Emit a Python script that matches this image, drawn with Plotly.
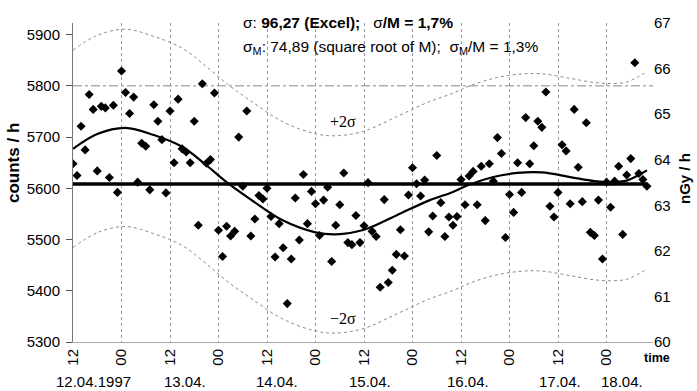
import plotly.graph_objects as go

# ---------------- data ----------------
# hourly count rates, starting 12.04.1997 12:00
counts = [5648, 5625, 5721, 5675, 5783, 5754, 5634, 5760, 5757, 5621,
          5762, 5592, 5829, 5787, 5746, 5778, 5612, 5688, 5682, 5597,
          5763, 5731, 5695, 5591, 5751, 5650, 5774, 5677, 5671, 5650,
          5731, 5528, 5804, 5649, 5656, 5786, 5518, 5467, 5526, 5507,
          5516, 5700, 5604, 5751, 5507, 5540, 5586, 5579, 5600, 5545,
          5466, 5531, 5484, 5375, 5462, 5581, 5499, 5627, 5531, 5594,
          5570, 5508, 5577, 5602, 5457, 5528, 5568, 5630, 5494, 5490,
          5547, 5494, 5527, 5611, 5516, 5506, 5407, 5578, 5416, 5440,
          5471, 5519, 5468, 5587, 5640, 5609, 5585, 5616, 5515, 5546,
          5664, 5572, 5506, 5544, 5528, 5545, 5617, 5568, 5624, 5633,
          5568, 5643, 5537, 5648, 5614, 5699, 5668, 5504, 5588, 5553,
          5650, 5592, 5738, 5648, 5683, 5731, 5719, 5788, 5565, 5544,
          5592, 5685, 5673, 5570, 5754, 5641, 5574, 5728, 5514, 5508,
          5577, 5462, 5612, 5563, 5614, 5643, 5510, 5626, 5658, 5845,
          5629, 5617, 5604]
hours = list(range(len(counts)))

# fitted curve
fit_hours = [0, 6, 13, 20, 27, 33, 38, 44, 52, 60, 65, 72, 80, 88, 94, 98,
             104, 110, 116, 123, 129, 133, 137, 140, 142]
fit_counts = [5677, 5706, 5718, 5704, 5681, 5645, 5612, 5578, 5537, 5514, 5510,
              5519, 5547, 5576, 5593, 5607, 5622, 5630, 5631, 5622, 5614, 5612,
              5615, 5626, 5635]

SIGMA = 96.27          # Excel standard deviation
SIGMA_M = 74.89        # square root of M
MEAN = SIGMA_M ** 2    # M

upper = [v + 2 * SIGMA for v in fit_counts]
lower = [v - 2 * SIGMA for v in fit_counts]

tick_hours = [0, 12, 24, 36, 48, 60, 72, 84, 96, 108, 120, 132]
tick_labels = ["12", "00", "12", "00", "12", "00", "12", "00", "12", "00", "12", "00"]
date_labels = ["12.04.1997", "13.04.", "14.04.", "15.04.", "16.04.", "17.04.", "18.04."]
date_label_hours = [5.0, 27.8, 50.5, 73.5, 97.7, 120.5, 135.8]
left_ticks = [5300, 5400, 5500, 5600, 5700, 5800, 5900]
right_ticks = [60, 61, 62, 63, 64, 65, 66, 67]
grid_levels = [5800]

# ---------------- layout helpers ----------------
W, H = 697, 391
ML, MR, MT, MB = 73, 44, 23, 49
PW, PH = W - ML - MR, H - MT - MB


def px(xp):
    return (xp - ML) / PW


def py(yp):
    return (H - MB - yp) / PH


FONT = "Liberation Sans, Arial, sans-serif"
SERIF = "Liberation Serif, Times New Roman, serif"

fig = go.Figure()

# +/- 2 sigma bands
for band in (upper, lower):
    fig.add_trace(go.Scatter(x=fit_hours, y=band, mode="lines", line_shape="spline",
                             line=dict(color="#8a8a8a", width=1, dash="dot"),
                             hoverinfo="skip", showlegend=False))
# mean line
fig.add_trace(go.Scatter(x=[hours[0], hours[-1]], y=[MEAN, MEAN], mode="lines",
                         line=dict(color="black", width=3.5), showlegend=False))
# fit curve
fig.add_trace(go.Scatter(x=fit_hours, y=fit_counts, mode="lines", line_shape="spline",
                         line=dict(color="black", width=2.2), showlegend=False))
# measured points
fig.add_trace(go.Scatter(x=hours, y=counts, mode="markers",
                         marker=dict(symbol="diamond", size=7, color="black"),
                         showlegend=False))
# invisible trace for the right axis
fig.add_trace(go.Scatter(x=[hours[0]], y=[right_ticks[0]], yaxis="y2", mode="markers",
                         marker=dict(opacity=0), hoverinfo="skip", showlegend=False))

for lv in grid_levels:
    fig.add_shape(type="line", xref="paper", x0=0, x1=1, yref="y", y0=lv, y1=lv,
                  line=dict(color="#888888", width=1, dash="dashdot"), layer="below")

top_count = 5300 + PH / 0.5123

fig.update_layout(
    width=W, height=H,
    margin=dict(l=ML, r=MR, t=MT, b=MB),
    paper_bgcolor="white", plot_bgcolor="white",
    font=dict(family=FONT, size=15, color="black"),
    xaxis=dict(range=[0, 143.5], tickvals=tick_hours, ticktext=tick_labels,
               tickangle=-90, showgrid=True, gridcolor="#999999", griddash="dot",
               gridwidth=1, zeroline=False, showline=True, linecolor="#aaaaaa",
               linewidth=1, ticks="", tickfont=dict(size=15)),
    yaxis=dict(range=[5300, top_count], tickvals=left_ticks, showgrid=False,
               zeroline=False, showline=True, linecolor="#777777", linewidth=1,
               ticks="outside", ticklen=6, tickcolor="#555555",
               ticklabelstandoff=3, tickfont=dict(size=15)),
    yaxis2=dict(range=[60, 67], tickvals=right_ticks, overlaying="y", side="right",
                showgrid=False, zeroline=False, showline=False, ticks="",
                tickfont=dict(size=15)),
)

NB = "\u00a0"
ann = []


def add_px(xp, yp, text, size, **kw):
    d = dict(x=px(xp), y=py(yp), xref="paper", yref="paper", xanchor="center",
             yanchor="middle", showarrow=False, font=dict(size=size), text=text)
    d.update(kw)
    ann.append(d)


add_px(241, 22, "σ: <b>96,27 (Excel);</b>" + NB * 3 + "σ<b>/M = 1,7%</b>", 15.5,
       xanchor="left")
add_px(241, 48, "σ<sub>M</sub>: 74,89 (square root of M);" + NB * 2 +
       "σ<sub>M</sub>/M = 1,3%", 15.5, xanchor="left")
add_px(13, 163, "<b>counts / h</b>", 17, textangle=-90)
add_px(684, 179, "<b>nGy / h</b>", 15, textangle=-90)
add_px(657, 358, "<b>time</b>", 12.5)

ann.append(dict(x=66.8, y=MEAN + 122, xref="x", yref="y", showarrow=False,
                xanchor="center", yanchor="middle",
                font=dict(family=SERIF, size=16), text="+2σ"))
ann.append(dict(x=66.8, y=MEAN - 262, xref="x", yref="y", showarrow=False,
                xanchor="center", yanchor="middle",
                font=dict(family=SERIF, size=16), text="−2σ"))
for lab, hr in zip(date_labels, date_label_hours):
    ann.append(dict(x=hr, y=py(381), xref="x", yref="paper", showarrow=False,
                    xanchor="center", yanchor="middle", font=dict(size=15), text=lab))
fig.update_layout(annotations=ann)

fig.write_html("out.html", config={"displayModeBar": False},
               post_script="document.body.style.margin='0';")
